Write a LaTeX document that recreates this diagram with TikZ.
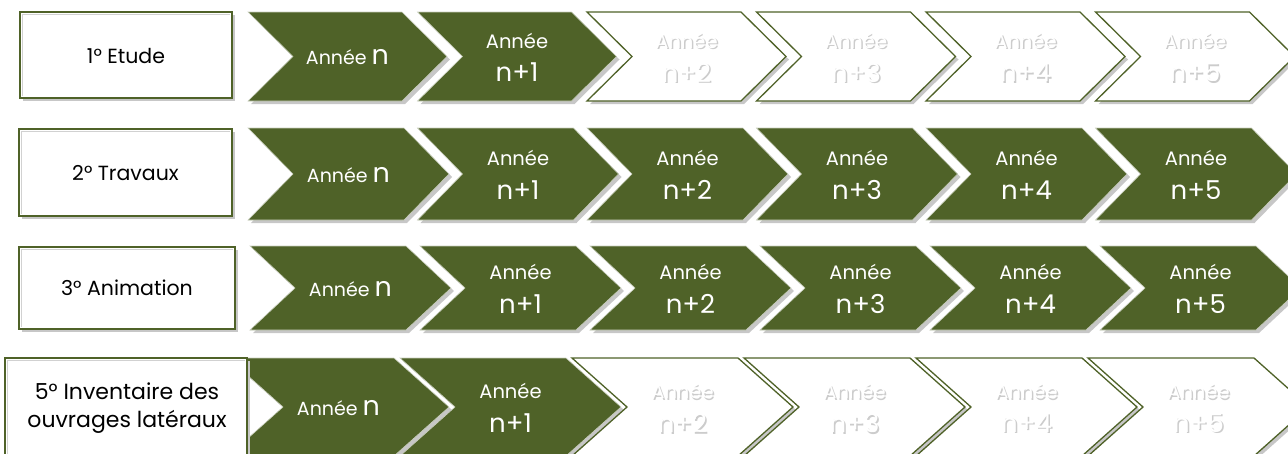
\documentclass[tikz,border=0pt]{standalone}
\usepackage{fontspec}
\setmainfont{Poppins}
\usetikzlibrary{calc}
\definecolor{olivegreen}{HTML}{4F6228}
\tikzset{
  shadowfill/.style={fill=black!22},
  fullchev/.style={fill=olivegreen, draw=white!70!olivegreen, line width=0.6pt},
  emptychev/.style={fill=white, draw=olivegreen, line width=1.3pt},
  titlebox/.style={fill=white, draw=olivegreen, line width=1.4pt},
  fulltxt/.style={text=white, inner sep=0pt, anchor=center},
  ghosttxt/.style={text=white, inner sep=0pt, anchor=center},
  ghostshadow/.style={text=black!20, inner sep=0pt, anchor=center},
  boxtxt/.style={text=black, inner sep=0pt, align=center, anchor=center},
  smallfont/.style={font=\fontsize{19.5}{22}\selectfont},
  bigfont/.style={font=\fontsize{26}{28}\selectfont},
  labelfont/.style={font=\fontsize{20.5}{24}\selectfont},
  biglabelfont/.style={font=\fontsize{22}{28}\selectfont}
}
\begin{document}
\begin{tikzpicture}[x=1pt,y=-1pt]
\useasboundingbox (0,0) rectangle (1288,453);
\clip (0,0) rectangle (1288,453);
% rows: r / top / bot / start / pitch / topwidth / depth / number filled
\foreach \r/\yt/\yb/\st/\p/\w/\d/\nf in {1/12/101/248/169.5/154/45/2, 2/128/220/248/169.5/156/45/6, 3/246/330/250/170/156/45/6, 4/358/456/228/172/166/55/2}{
  \pgfmathsetmacro\ym{(\yt+\yb)/2}
  \foreach \i in {0,...,5}{
    \pgfmathsetmacro\s{\st+\i*\p}
    \pgfmathsetmacro\cx{\s+(\w+\d)/2}
    \path[shadowfill, shift={(3,3)}] (\s,\yt) -- ({\s+\w},\yt) -- ({\s+\w+\d},\ym) -- ({\s+\w},\yb) -- (\s,\yb) -- ({\s+\d},\ym) -- cycle;
    \ifnum\i<\nf
      \path[fullchev] (\s,\yt) -- ({\s+\w},\yt) -- ({\s+\w+\d},\ym) -- ({\s+\w},\yb) -- (\s,\yb) -- ({\s+\d},\ym) -- cycle;
      \ifnum\i=0
        \node[fulltxt] (t\r\i) at (\cx,\ym+1) {\fontsize{19}{22}\selectfont Année {\fontsize{27}{28}\selectfont n}};
      \else
        \node[fulltxt, smallfont] (a\r\i) at (\cx,\ym-16) {Année};
        \node[fulltxt, bigfont] (b\r\i) at (\cx,\ym+16) {n+\i};
      \fi
    \else
      \path[emptychev] (\s,\yt) -- ({\s+\w},\yt) -- ({\s+\w+\d},\ym) -- ({\s+\w},\yb) -- (\s,\yb) -- ({\s+\d},\ym) -- cycle;
      \node[ghostshadow, smallfont] (sa\r\i) at (\cx+1.5,\ym-14.5) {Année};
      \node[ghostshadow, bigfont] (sb\r\i) at (\cx+1.5,\ym+17.5) {n+\i};
      \node[ghosttxt, smallfont] (a\r\i) at (\cx,\ym-16) {Année};
      \node[ghosttxt, bigfont] (b\r\i) at (\cx,\ym+16) {n+\i};
    \fi
  }
}
% title boxes
\foreach \r/\xa/\ya/\xb/\yb in {1/20/12/232/98, 2/19/129/232/216, 3/19/247/235/329, 4/5/358/247/462}{
  \path[shadowfill] (\xa+3,\ya+3) rectangle (\xb+3,\yb+3);
  \path[titlebox] (\xa,\ya) rectangle (\xb,\yb);
  \draw[black!18, line width=1pt] (\xa+2.5,\yb-2.5) -- (\xa+2.5,\ya+2.5) -- (\xb-2.5,\ya+2.5);
}
\node[boxtxt, labelfont] (l1) at (126,56) {1° Etude};
\node[boxtxt, labelfont] (l2) at (125.5,173) {2° Travaux};
\node[boxtxt, labelfont] (l3) at (127,288) {3° Animation};
\node[boxtxt, biglabelfont] (l4) at (127,408) {5° Inventaire des\\ouvrages latéraux};
\end{tikzpicture}
\end{document}
